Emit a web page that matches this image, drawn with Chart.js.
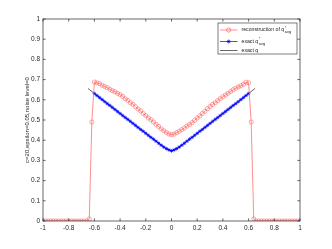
<!DOCTYPE html>
<html><head><meta charset="utf-8">
<script src="https://cdn.jsdelivr.net/npm/chart.js@4/dist/chart.umd.min.js"></script>
<style>html,body{margin:0;padding:0;background:#fff}#wrap{width:332px;height:249px}</style>
</head><body><div id="wrap"><canvas id="c" width="332" height="249"></canvas></div>
<script>
const xRecon = [-1,-0.98,-0.96,-0.94,-0.92,-0.9,-0.88,-0.86,-0.84,-0.82,-0.8,-0.78,-0.76,-0.74,-0.72,-0.7,-0.68,-0.66,
 -0.64,-0.62,-0.6,-0.58,-0.56,-0.54,-0.52,-0.5,-0.48,-0.46,-0.44,-0.42,-0.4,-0.38,-0.36,-0.34,-0.32,-0.3,-0.28,-0.26,-0.24,-0.22,-0.2,-0.18,-0.16,-0.14,-0.12,-0.1,-0.08,-0.06,-0.04,-0.02,
 0,0.02,0.04,0.06,0.08,0.1,0.12,0.14,0.16,0.18,0.2,0.22,0.24,0.26,0.28,0.3,0.32,0.34,0.36,0.38,0.4,0.42,0.44,0.46,0.48,0.5,0.52,0.54,0.56,0.58,0.6,0.62,0.64,
 0.66,0.68,0.7,0.72,0.74,0.76,0.78,0.8,0.82,0.84,0.86,0.88,0.9,0.92,0.94,0.96,0.98,1];
const yRecon = [0,0,0,0,0,0,0,0,0,0,0,0,0,0,0,0,0,0,
 0.01,0.49,0.688,0.684,0.680,0.672,0.666,0.660,0.652,0.645,0.640,0.632,0.626,0.617,0.605,0.597,0.585,0.578,0.566,0.554,0.545,0.532,0.522,0.510,0.502,0.490,0.478,0.468,0.456,0.447,0.438,0.431,
 0.427,0.430,0.437,0.444,0.452,0.460,0.470,0.478,0.487,0.498,0.510,0.520,0.532,0.543,0.556,0.567,0.577,0.586,0.596,0.606,0.615,0.624,0.632,0.641,0.650,0.657,0.664,0.670,0.677,0.687,0.684,0.49,0.01,
 0,0,0,0,0,0,0,0,0,0,0,0,0,0,0,0,0,0];
const xAvg = [-0.6,-0.58,-0.56,-0.54,-0.52,-0.5,-0.48,-0.46,-0.44,-0.42,-0.4,-0.38,-0.36,-0.34,-0.32,-0.3,-0.28,-0.26,-0.24,-0.22,-0.2,-0.18,-0.16,-0.14,-0.12,-0.1,-0.08,-0.06,-0.04,-0.02,
 0,0.02,0.04,0.06,0.08,0.1,0.12,0.14,0.16,0.18,0.2,0.22,0.24,0.26,0.28,0.3,0.32,0.34,0.36,0.38,0.4,0.42,0.44,0.46,0.48,0.5,0.52,0.54,0.56,0.58,0.6];
const yAvg = [0.631,0.621,0.611,0.601,0.591,0.581,0.572,0.562,0.552,0.542,0.532,0.522,0.512,0.503,0.493,0.483,0.473,0.463,0.453,0.444,0.434,0.424,0.414,0.405,0.395,0.385,0.375,0.366,0.358,0.352,
 0.347,0.352,0.358,0.366,0.375,0.385,0.395,0.405,0.414,0.424,0.434,0.444,0.453,0.463,0.473,0.483,0.493,0.503,0.512,0.522,0.532,0.542,0.552,0.562,0.572,0.581,0.591,0.601,0.611,0.621,0.631];
const xExact = [-0.65,-0.6,-0.3,-0.1,-0.05,0,0.05,0.1,0.3,0.6,0.65];
const yExact = [0.656,0.631,0.483,0.385,0.362,0.345,0.362,0.385,0.483,0.631,0.656];
const xTicks = [-1,-0.8,-0.6,-0.4,-0.2,0,0.2,0.4,0.6,0.8,1];
const yTicks = [0,0.1,0.2,0.3,0.4,0.5,0.6,0.7,0.8,0.9,1];
const yLabel = 'c=20,epsilon=0.05,noise level=0';

const pts = (xs, ys) => xs.map((x, i) => ({x: x, y: ys[i]}));
const AX = '#262626';
const RED = 'rgb(255,95,95)';
const FONT = '"Liberation Sans", Arial, sans-serif';

const framePlugin = {
  id: 'frame',
  afterDraw(chart) {
    const ctx = chart.ctx, a = chart.chartArea;
    const sx = chart.scales.x, sy = chart.scales.y;
    ctx.save();
    ctx.strokeStyle = AX; ctx.lineWidth = 0.7;
    ctx.strokeRect(a.left, a.top, a.right - a.left, a.bottom - a.top);
    const tl = 2.6;
    ctx.beginPath();
    xTicks.forEach(v => { const p = sx.getPixelForValue(v);
      ctx.moveTo(p, a.bottom); ctx.lineTo(p, a.bottom - tl);
      ctx.moveTo(p, a.top); ctx.lineTo(p, a.top + tl); });
    yTicks.forEach(v => { const p = sy.getPixelForValue(v);
      ctx.moveTo(a.left, p); ctx.lineTo(a.left + tl, p);
      ctx.moveTo(a.right, p); ctx.lineTo(a.right - tl, p); });
    ctx.stroke();
    // y label
    ctx.fillStyle = AX;
    ctx.font = '6px ' + FONT;
    ctx.textAlign = 'center'; ctx.textBaseline = 'middle';
    ctx.translate(27, (a.top + a.bottom) / 2);
    ctx.rotate(-Math.PI / 2);
    ctx.fillText(yLabel, 0, 0);
    ctx.restore();
    // legend
    ctx.save();
    const bx = 218, by = 23, bw = 79, bh = 31;
    ctx.fillStyle = '#fff'; ctx.fillRect(bx, by, bw, bh);
    ctx.strokeStyle = AX; ctx.lineWidth = 0.6; ctx.strokeRect(bx, by, bw, bh);
    const rows = [
      {y: 30, color: RED, marker: 'circle', main: 'reconstruction of q', sup: '*', sub: 'avg'},
      {y: 41.5, color: '#0000ff', marker: 'star', main: 'exact q', sup: '*', sub: 'avg'},
      {y: 50.5, color: '#000', marker: null, main: 'exact q', sup: '', sub: ''}
    ];
    rows.forEach(r => {
      ctx.strokeStyle = r.color; ctx.lineWidth = r.marker ? 0.7 : 0.6;
      ctx.beginPath(); ctx.moveTo(220, r.y); ctx.lineTo(237.5, r.y); ctx.stroke();
      if (r.marker === 'circle') { ctx.beginPath(); ctx.arc(228.7, r.y, 2.1, 0, Math.PI * 2); ctx.stroke(); }
      if (r.marker === 'star') {
        ctx.beginPath();
        for (let k = 0; k < 4; k++) { const t = k * Math.PI / 4; ctx.moveTo(228.7 - 2 * Math.cos(t), r.y - 2 * Math.sin(t)); ctx.lineTo(228.7 + 2 * Math.cos(t), r.y + 2 * Math.sin(t)); }
        ctx.stroke();
      }
      ctx.fillStyle = AX; ctx.textAlign = 'left'; ctx.textBaseline = 'middle';
      ctx.font = '5.2px ' + FONT;
      ctx.fillText(r.main, 241.5, r.y);
      const w = ctx.measureText(r.main).width;
      if (r.sup) {
        ctx.font = '4px ' + FONT;
        ctx.fillText(r.sup, 241.5 + w + 0.5, r.y - 2.6);
        ctx.fillText(r.sub, 241.5 + w + 0.5, r.y + 2.2);
      }
    });
    ctx.restore();
  }
};

new Chart(document.getElementById('c'), {
  type: 'scatter',
  data: {
    datasets: [
      {label: 'reconstruction of q*avg', data: pts(xRecon, yRecon), showLine: true, order: 1,
       borderColor: RED, borderWidth: 0.7, pointStyle: 'circle', pointRadius: 2.1,
       pointBorderWidth: 0.55, pointBorderColor: RED, pointBackgroundColor: 'rgba(0,0,0,0)'},
      {label: 'exact q*avg', data: pts(xAvg, yAvg), showLine: true, order: 2,
       borderColor: '#0000ff', borderWidth: 1, pointStyle: 'star', pointRadius: 1.8,
       pointBorderWidth: 0.7, pointBorderColor: '#0000ff', pointBackgroundColor: '#0000ff'},
      {label: 'exact q', data: pts(xExact, yExact), showLine: true, order: 3,
       borderColor: '#000', borderWidth: 0.6, pointRadius: 0}
    ]
  },
  options: {
    responsive: false, animation: false, devicePixelRatio: 1,
    layout: {padding: {left: 0, top: 19, right: 32, bottom: 0}},
    plugins: {legend: {display: false}, tooltip: {enabled: false}},
    scales: {
      x: {type: 'linear', min: -1, max: 1,
          afterFit(s) { s.height = 28; },
          afterBuildTicks(s) { s.ticks = xTicks.map(v => ({value: v})); },
          grid: {display: false, drawTicks: false, tickLength: 0}, border: {display: false},
          ticks: {padding: 3, color: AX, font: {size: 6.5, family: FONT}, maxRotation: 0,
                  callback: v => String(parseFloat(v.toFixed(1)))}},
      y: {type: 'linear', min: 0, max: 1,
          afterFit(s) { s.width = 43; },
          afterBuildTicks(s) { s.ticks = yTicks.map(v => ({value: v})); },
          grid: {display: false, drawTicks: false, tickLength: 0}, border: {display: false},
          ticks: {padding: 3, color: AX, font: {size: 6.5, family: FONT},
                  callback: v => String(parseFloat(v.toFixed(1)))}}
    }
  },
  plugins: [framePlugin]
});
</script></body></html>
